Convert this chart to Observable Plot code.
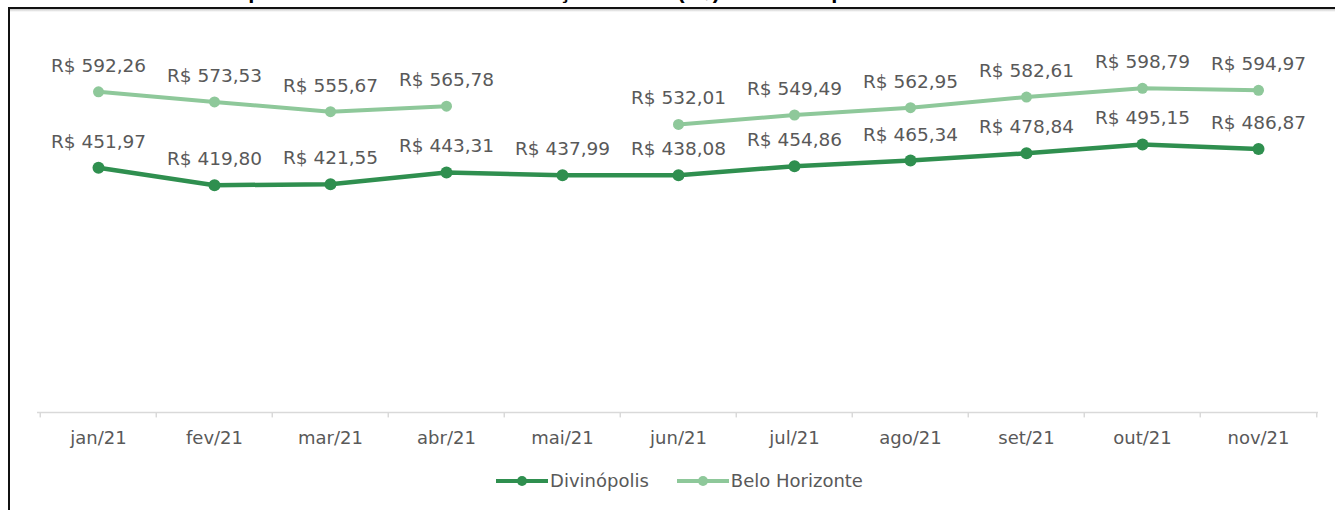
<!DOCTYPE html>
<html>
<head>
<meta charset="utf-8">
<script src="https://cdn.jsdelivr.net/npm/d3@7"></script>
<script src="https://cdn.jsdelivr.net/npm/@observablehq/plot@0.6"></script>
<style>
  html, body { margin: 0; padding: 0; background: #fff; }
  body { width: 1335px; height: 510px; overflow: hidden; position: relative; font-family: "DejaVu Sans", sans-serif; }
  #title { position: absolute; left: 0; top: -22px; width: 1335px; height: 26px; line-height: 26px;
           font: bold 22px "Liberation Sans", Arial, sans-serif; text-align: center; color: #000;
           white-space: nowrap; overflow: hidden; }
  #frame { position: absolute; left: 8px; top: 7px; width: 1400px; height: 600px;
           border-top: 2px solid #111; border-left: 2px solid #111; }
  #frame::after { content: ""; position: absolute; left: 0; top: 0; right: 0; height: 3px;
                  background: linear-gradient(#c8c8c8, #fff); }
  #chart { position: absolute; left: 0; top: 0; }
  #legend { position: absolute; left: 12px; top: 470px; width: 1335px; display: flex; justify-content: center;
            align-items: center; font: 18px "DejaVu Sans", sans-serif; color: #595959; }
  .item { display: flex; align-items: center; margin: 0 14px; }
  .item svg { margin-right: 2px; }
</style>
</head>
<body>
<div id="title">Comparativo do custo da alimentação básica (R$) em Divinópolis e Belo Horizonte – 2021</div>
<div id="frame"></div>
<div id="chart"></div>
<div id="legend"></div>
<script>
const months = ["jan/21", "fev/21", "mar/21", "abr/21", "mai/21", "jun/21", "jul/21", "ago/21", "set/21", "out/21", "nov/21"];
const divinopolis = [451.97, 419.80, 421.55, 443.31, 437.99, 438.08, 454.86, 465.34, 478.84, 495.15, 486.87];
const beloHorizonte = [592.26, 573.53, 555.67, 565.78, null, 532.01, 549.49, 562.95, 582.61, 598.79, 594.97];
const series = ["Divinópolis", "Belo Horizonte"];
const colors = ["#2f8f4f", "#8ec89a"];

const rows = [];
months.forEach((m, i) => {
  rows.push({month: m, city: series[0], value: divinopolis[i]});
  rows.push({month: m, city: series[1], value: beloHorizonte[i]});
});
const fmt = v => "R$ " + v.toFixed(2).replace(".", ",");
const yv = d => d.value == null ? NaN : d.value;

const W = 1335, H = 460, ML = 37, MR = 17;
const bw = (W - ML - MR) / months.length;

const divRows = rows.filter(d => d.city === series[0]);
const bhRows = rows.filter(d => d.city === series[1]);
const valid = rows.filter(d => d.value != null);

const chart = Plot.plot({
  width: W, height: H,
  marginLeft: ML, marginRight: MR, marginTop: 33, marginBottom: 48,
  style: {fontFamily: "DejaVu Sans", fontSize: "18px", color: "#595959", background: "transparent"},
  x: {type: "band", domain: months, padding: 0, label: null},
  y: {domain: [0, 700], axis: null},
  marks: [
    Plot.ruleY([0], {stroke: "#d9d9d9", strokeWidth: 1.5}),
    Plot.ruleX(months, {x: d => d, y1: 0, y2: -10, dx: -bw / 2, stroke: "#d9d9d9", strokeWidth: 1.5}),
    Plot.ruleX([months[months.length - 1]], {x: d => d, y1: 0, y2: -10, dx: bw / 2, stroke: "#d9d9d9", strokeWidth: 1.5}),
    Plot.axisX({tickSize: 0, tickPadding: 19, fontSize: 18, fill: "#595959"}),
    Plot.line(bhRows, {x: "month", y: yv, stroke: colors[1], strokeWidth: 4}),
    Plot.dot(bhRows, {x: "month", y: yv, r: 5.5, fill: colors[1]}),
    Plot.line(divRows, {x: "month", y: yv, stroke: colors[0], strokeWidth: 4.5}),
    Plot.dot(divRows, {x: "month", y: yv, r: 6, fill: colors[0]}),
    Plot.text(valid, {x: "month", y: "value", text: d => fmt(d.value), dy: -20, lineAnchor: "bottom",
                      fill: "#595959", fontSize: 18.5})
  ]
});
document.getElementById("chart").appendChild(chart);

const legend = document.getElementById("legend");
series.forEach((s, i) => {
  const item = document.createElement("div");
  item.className = "item";
  item.innerHTML = `<svg width="52" height="14"><line x1="0" y1="7" x2="52" y2="7" stroke="${colors[i]}" stroke-width="4"/><circle cx="26" cy="7" r="5" fill="${colors[i]}"/></svg><span>${s}</span>`;
  legend.appendChild(item);
});
</script>
</body>
</html>
